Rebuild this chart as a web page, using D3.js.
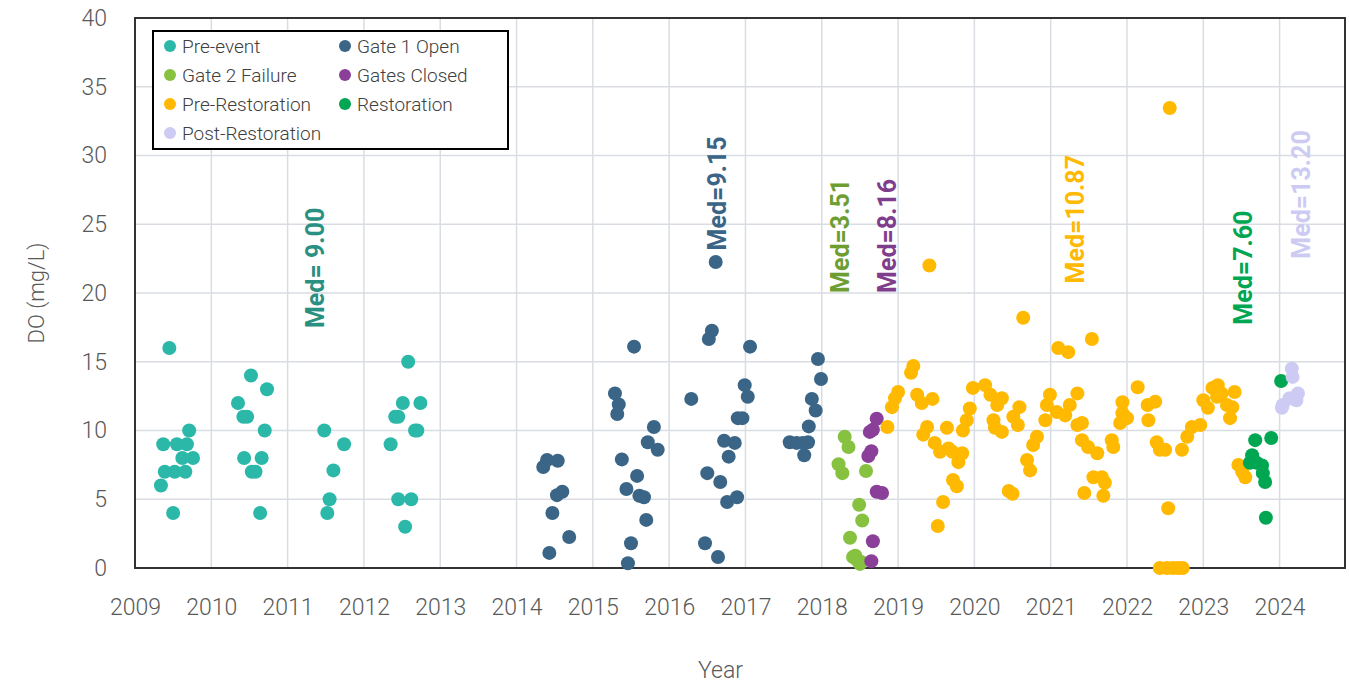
<!DOCTYPE html>
<html>
<head>
<meta charset="utf-8">
<script src="https://cdn.jsdelivr.net/npm/d3@7"></script>
<style>
  body { margin: 0; background: #fff; }
  svg { display: block; font-family: Roboto, "Open Sans", sans-serif; }
</style>
</head>
<body>
<div id="chart"></div>
<script>
// [decimal year, DO mg/L]
const preEvent = [
  [2009.45, 16], [2009.71, 10], [2009.37, 9], [2009.55, 9], [2009.68, 9],
  [2009.62, 8], [2009.76, 8], [2009.39, 7], [2009.52, 7], [2009.66, 7],
  [2009.34, 6], [2009.50, 4],
  [2010.52, 14], [2010.73, 13], [2010.35, 12], [2010.42, 11], [2010.47, 11],
  [2010.70, 10], [2010.43, 8], [2010.66, 8], [2010.53, 7], [2010.58, 7], [2010.64, 4],
  [2011.48, 10], [2011.74, 9], [2011.60, 7.1], [2011.55, 5], [2011.52, 4],
  [2012.58, 15], [2012.51, 12], [2012.74, 12], [2012.41, 11], [2012.45, 11],
  [2012.67, 10], [2012.70, 10], [2012.35, 9], [2012.45, 5], [2012.62, 5], [2012.54, 3]
];
const gate1Open = [
  [2014.40, 7.85], [2014.54, 7.8], [2014.35, 7.35], [2014.53, 5.3], [2014.60, 5.55],
  [2014.47, 4.0], [2014.69, 2.25], [2014.43, 1.1],
  [2015.54, 16.1], [2015.29, 12.7], [2015.34, 11.9], [2015.32, 11.2], [2015.80, 10.25],
  [2015.72, 9.15], [2015.85, 8.6], [2015.38, 7.9], [2015.58, 6.7], [2015.44, 5.75],
  [2015.61, 5.25], [2015.67, 5.15], [2015.70, 3.5], [2015.50, 1.8], [2015.46, 0.35],
  [2016.56, 17.25], [2016.52, 16.65], [2016.61, 22.25], [2017.06, 16.1], [2016.29, 12.3],
  [2016.99, 13.3], [2017.03, 12.45], [2016.90, 10.9], [2016.96, 10.9], [2016.72, 9.25],
  [2016.86, 9.1], [2016.78, 8.1], [2016.50, 6.9], [2016.67, 6.25], [2016.76, 4.8],
  [2016.89, 5.15], [2016.47, 1.8], [2016.64, 0.8],
  [2017.95, 15.2], [2017.99, 13.75], [2017.87, 12.3], [2017.92, 11.45], [2017.83, 10.3],
  [2017.58, 9.15], [2017.67, 9.1], [2017.75, 9.1], [2017.82, 9.15], [2017.77, 8.2]
];
const gate2Failure = [
  [2018.30, 9.55], [2018.35, 8.8], [2018.22, 7.55], [2018.27, 6.9], [2018.58, 7.05],
  [2018.49, 4.6], [2018.53, 3.45], [2018.37, 2.2], [2018.41, 0.8], [2018.46, 0.6],
  [2018.51, 0.45], [2018.44, 0.9], [2018.50, 0.3]
];
const gatesClosed = [
  [2018.72, 10.85], [2018.63, 9.9], [2018.67, 10.05], [2018.65, 8.5], [2018.61, 8.15],
  [2018.72, 5.55], [2018.79, 5.45], [2018.67, 1.95], [2018.65, 0.5]
];
const preRestoration = [
  [2018.86, 10.25], [2018.92, 11.7], [2018.96, 12.35], [2019.00, 12.8], [2019.17, 14.2],
  [2019.20, 14.7], [2019.25, 12.6], [2019.31, 12.0], [2019.45, 12.3], [2019.41, 22.0],
  [2019.38, 10.25], [2019.33, 9.7], [2019.48, 9.1], [2019.55, 8.45], [2019.66, 8.7],
  [2019.71, 8.45], [2019.84, 8.35], [2019.79, 7.7], [2019.64, 10.2], [2019.72, 6.4],
  [2019.77, 5.95], [2019.59, 4.8], [2019.52, 3.05], [2019.85, 10.0], [2019.90, 10.75],
  [2019.94, 11.6], [2019.98, 13.1], [2020.14, 13.3], [2020.21, 12.6], [2020.36, 12.35],
  [2020.30, 11.85], [2020.25, 10.75], [2020.27, 10.2], [2020.36, 9.9], [2020.51, 11.0],
  [2020.59, 11.7], [2020.57, 10.4], [2020.64, 18.2], [2020.82, 9.55], [2020.77, 8.95],
  [2020.69, 7.85], [2020.73, 7.1], [2020.45, 5.6], [2020.50, 5.4],
  [2021.10, 16.0], [2021.23, 15.7], [2021.54, 16.65], [2020.99, 12.6], [2020.95, 11.85],
  [2020.93, 10.75], [2021.08, 11.35], [2021.19, 11.1], [2021.35, 12.7], [2021.25, 11.85],
  [2021.35, 10.4], [2021.41, 10.55], [2021.41, 9.3], [2021.49, 8.8], [2021.61, 8.35],
  [2021.80, 9.3], [2021.82, 8.8], [2021.56, 6.6], [2021.67, 6.6], [2021.71, 6.2],
  [2021.44, 5.45], [2021.69, 5.25], [2021.94, 12.05], [2021.94, 11.25], [2021.91, 10.55],
  [2022.00, 10.9], [2022.14, 13.15], [2022.27, 11.85], [2022.28, 10.75], [2022.37, 12.1],
  [2022.39, 9.15], [2022.43, 8.6], [2022.50, 8.6], [2022.54, 4.35], [2022.56, 33.45],
  [2022.43, 0], [2022.52, 0], [2022.60, 0], [2022.67, 0], [2022.73, 0],
  [2022.72, 8.6], [2022.79, 9.55], [2022.85, 10.25], [2022.96, 10.4],
  [2023.00, 12.2], [2023.06, 11.65], [2023.12, 13.1], [2023.19, 13.3], [2023.24, 12.7],
  [2023.31, 11.85], [2023.35, 10.9], [2023.41, 12.8], [2023.38, 11.7], [2023.18, 12.45],
  [2023.46, 7.5], [2023.51, 7.0], [2023.55, 6.6]
];
const restoration = [
  [2024.02, 13.6], [2023.68, 9.3], [2023.89, 9.45], [2023.64, 8.2], [2023.61, 7.65],
  [2023.70, 7.65], [2023.77, 7.45], [2023.78, 6.9], [2023.81, 6.25], [2023.82, 3.65]
];
const postRestoration = [
  [2024.16, 14.5], [2024.17, 13.9], [2024.24, 12.7], [2024.22, 12.2], [2024.13, 12.35],
  [2024.04, 11.85], [2024.03, 11.65]
];

const seriesNames = ['Pre-event', 'Gate 1 Open', 'Gate 2 Failure', 'Gates Closed',
  'Pre-Restoration', 'Restoration', 'Post-Restoration'];
const seriesData = [preEvent, gate1Open, gate2Failure, gatesClosed,
  preRestoration, restoration, postRestoration];
const seriesColors = ['#2bb8a9', '#3a6586', '#86c140', '#8a3f98',
  '#ffb900', '#00a651', '#cdcbf4'];

// median labels: text, anchor [year, value] where the text starts, colour
const medianLabels = ['Med= 9.00', 'Med=9.15', 'Med=3.51', 'Med=8.16', 'Med=10.87', 'Med=7.60', 'Med=13.20'];
const medianAnchors = [[2011.37, 17.45], [2016.63, 23.1], [2018.24, 20.0], [2018.86, 20.0],
  [2021.33, 20.7], [2023.53, 17.7], [2024.29, 22.5]];
const medianColors = ['#2a9082', '#3a6586', '#6e9e32', '#7f3d8e', '#ffb900', '#00a651', '#cdcbf4'];

const yearTicks = d3.range(2009, 2025);
const valueTicks = d3.range(0, 41, 5);

const width = 1349, height = 688;
const margin = { top: 18, right: 3, bottom: 120, left: 135 };

const svg = d3.select('#chart').append('svg')
  .attr('width', width)
  .attr('height', height);

const x = d3.scaleLinear()
  .domain([2009, 2024.87])
  .range([margin.left, width - margin.right]);
const y = d3.scaleLinear()
  .domain([0, 40])
  .range([height - margin.bottom, margin.top]);

// grid
svg.append('g')
  .selectAll('line.v')
  .data(yearTicks.slice(1))
  .join('line')
  .attr('x1', d => x(d)).attr('x2', d => x(d))
  .attr('y1', y(0)).attr('y2', y(40))
  .attr('stroke', '#d9dde3').attr('stroke-width', 1.5);
svg.append('g')
  .selectAll('line.h')
  .data(valueTicks.slice(1))
  .join('line')
  .attr('x1', x(2009)).attr('x2', x.range()[1])
  .attr('y1', d => y(d)).attr('y2', d => y(d))
  .attr('stroke', '#d9dde3').attr('stroke-width', 1.5);

// axes (labels only)
const xAxis = svg.append('g')
  .attr('transform', `translate(0, ${y(0)})`)
  .call(d3.axisBottom(x).tickValues(yearTicks).tickFormat(d3.format('d')).tickSize(0).tickPadding(31));
xAxis.select('.domain').remove();
xAxis.selectAll('text')
  .attr('font-size', 23).attr('font-weight', 300).attr('fill', '#595959')
  .attr('font-family', 'Roboto, sans-serif');

const yAxis = svg.append('g')
  .attr('transform', `translate(${x(2009)}, 0)`)
  .call(d3.axisLeft(y).tickValues(valueTicks).tickSize(0).tickPadding(28));
yAxis.select('.domain').remove();
yAxis.selectAll('text')
  .attr('font-size', 23).attr('font-weight', 300).attr('fill', '#595959')
  .attr('font-family', 'Roboto, sans-serif');

// frame
svg.append('rect')
  .attr('x', x(2009)).attr('y', y(40))
  .attr('width', x.range()[1] - x(2009) - 1)
  .attr('height', y(0) - y(40))
  .attr('fill', 'none').attr('stroke', '#333').attr('stroke-width', 2);

// axis titles
svg.append('text')
  .attr('transform', `translate(36, ${(y(0) + y(40)) / 2}) rotate(-90)`)
  .attr('text-anchor', 'middle').attr('dominant-baseline', 'central')
  .attr('font-size', 22).attr('font-weight', 300).attr('fill', '#595959')
  .text('DO (mg/L)');
svg.append('text')
  .attr('x', (x(2009) + x.range()[1]) / 2 - 20).attr('y', 670)
  .attr('text-anchor', 'middle').attr('dominant-baseline', 'central')
  .attr('font-size', 23).attr('font-weight', 300).attr('fill', '#595959')
  .text('Year');

// points
seriesData.forEach((data, i) => {
  svg.append('g')
    .selectAll('circle')
    .data(data)
    .join('circle')
    .attr('cx', d => x(d[0]))
    .attr('cy', d => y(d[1]))
    .attr('r', 7)
    .attr('fill', seriesColors[i]);
});

// median labels
svg.append('g')
  .selectAll('text')
  .data(medianLabels)
  .join('text')
  .attr('transform', (d, i) => `translate(${x(medianAnchors[i][0])}, ${y(medianAnchors[i][1])}) rotate(-90)`)
  .attr('dominant-baseline', 'central')
  .attr('font-size', 25).attr('font-weight', 700)
  .attr('fill', (d, i) => medianColors[i])
  .text(d => d);

// legend
const legend = svg.append('g').attr('transform', 'translate(153, 31)');
legend.append('rect')
  .attr('width', 355).attr('height', 118)
  .attr('fill', '#fff').attr('stroke', '#000').attr('stroke-width', 2);
const items = legend.selectAll('g.item')
  .data(seriesNames)
  .join('g')
  .attr('transform', (d, i) => `translate(${i % 2 ? 192 : 17}, ${15 + Math.floor(i / 2) * 29})`);
items.append('circle').attr('r', 6).attr('fill', (d, i) => seriesColors[i]);
items.append('text')
  .attr('x', 12).attr('dominant-baseline', 'central')
  .attr('font-size', 19).attr('font-weight', 300).attr('fill', '#404040')
  .text(d => d);
</script>
</body>
</html>
